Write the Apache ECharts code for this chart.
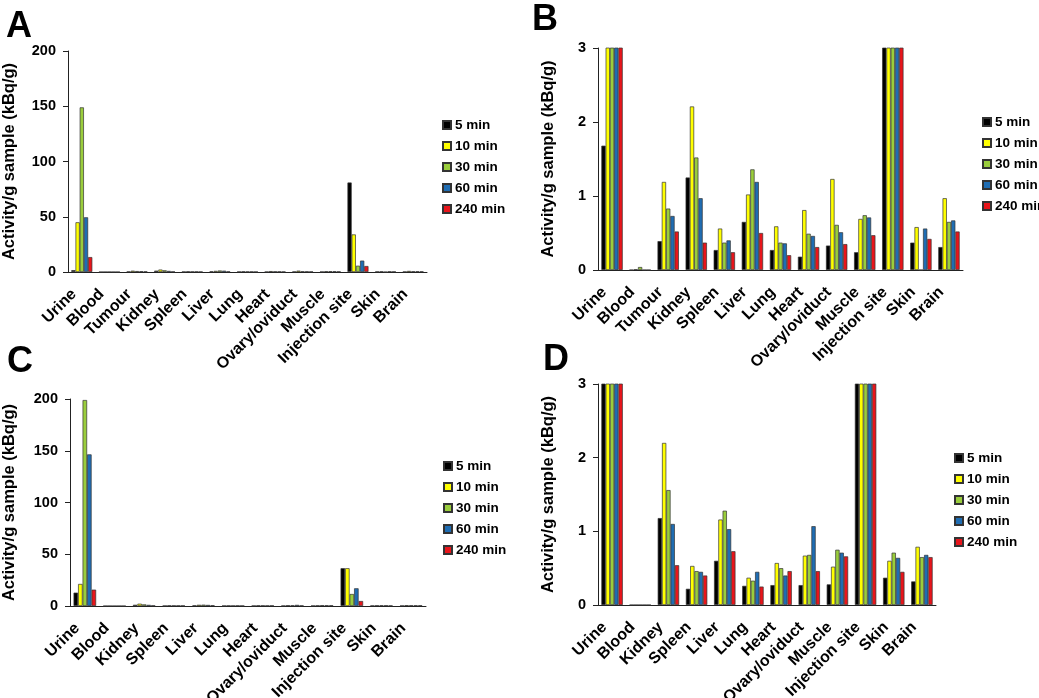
<!DOCTYPE html>
<html>
<head>
<meta charset="utf-8">
<script src="https://cdn.jsdelivr.net/npm/echarts@6/dist/echarts.min.js"></script>
<style>
  html, body { margin: 0; padding: 0; background: #fff; }
  #chart { width: 1039px; height: 698px; }
</style>
</head>
<body>
<div id="chart"></div>
<script>
// categories
const organsAB = ["Urine", "Blood", "Tumour", "Kidney", "Spleen", "Liver", "Lung", "Heart", "Ovary/oviduct", "Muscle", "Injection site", "Skin", "Brain"];
const organsCD = ["Urine", "Blood", "Kidney", "Spleen", "Liver", "Lung", "Heart", "Ovary/oviduct", "Muscle", "Injection site", "Skin", "Brain"];
const timePoints = ["5 min", "10 min", "30 min", "60 min", "240 min"];

// panels A + B (same data, B is zoomed to 0-3)
const ab5 = [1.68, 0, 0.39, 1.25, 0.27, 0.65, 0.27, 0.18, 0.33, 0.24, 81, 0.37, 0.31];
const ab10 = [45, 0.01, 1.19, 2.21, 0.56, 1.02, 0.59, 0.81, 1.23, 0.69, 34, 0.58, 0.97];
const ab30 = [149, 0.04, 0.83, 1.52, 0.37, 1.36, 0.37, 0.49, 0.61, 0.74, 5.7, 0, 0.65];
const ab60 = [49.5, 0, 0.73, 0.97, 0.40, 1.19, 0.36, 0.46, 0.51, 0.71, 10.3, 0.56, 0.67];
const ab240 = [13.5, 0, 0.52, 0.37, 0.24, 0.50, 0.20, 0.31, 0.35, 0.47, 5.4, 0.42, 0.52];

// panels C + D (same data, D is zoomed to 0-3)
const cd5 = [12.9, 0, 1.18, 0.22, 0.60, 0.26, 0.27, 0.27, 0.28, 36.5, 0.37, 0.32];
const cd10 = [21.3, 0, 2.20, 0.53, 1.16, 0.37, 0.57, 0.67, 0.52, 36.5, 0.60, 0.79];
const cd30 = [199, 0, 1.56, 0.46, 1.28, 0.33, 0.50, 0.68, 0.75, 11.6, 0.71, 0.65];
const cd60 = [146.5, 0, 1.10, 0.45, 1.03, 0.45, 0.40, 1.07, 0.71, 17.1, 0.64, 0.68];
const cd240 = [15.8, 0, 0.54, 0.40, 0.73, 0.25, 0.46, 0.46, 0.66, 4.8, 0.45, 0.65];

const colors = ["#000000", "#ffff00", "#9acd3c", "#1f6db3", "#e8151b"];
const font = "Liberation Sans, Arial, sans-serif";
const yName = "Activity/g sample (kBq/g)";

const chart = echarts.init(document.getElementById("chart"));

// grid layout for the four panels
const panels = [
  { letter: "A", grid: { left: 68, top: 51, width: 359, height: 221 }, cats: organsAB, data: [ab5, ab10, ab30, ab60, ab240], max: 200, interval: 50, nameGap: 50, legend: { left: 437, top: 113 }, title: { left: 1, top: 4 } },
  { letter: "B", grid: { left: 598, top: 48, width: 365, height: 222 }, cats: organsAB, data: [ab5, ab10, ab30, ab60, ab240], max: 3, interval: 1, nameGap: 41, legend: { left: 977, top: 110 }, title: { left: 527, top: -3 } },
  { letter: "C", grid: { left: 70, top: 399, width: 356, height: 207 }, cats: organsCD, data: [cd5, cd10, cd30, cd60, cd240], max: 200, interval: 50, nameGap: 52, legend: { left: 438, top: 454 }, title: { left: 2, top: 339 } },
  { letter: "D", grid: { left: 598, top: 384, width: 338, height: 221 }, cats: organsCD, data: [cd5, cd10, cd30, cd60, cd240], max: 3, interval: 1, nameGap: 41, legend: { left: 949, top: 446 }, title: { left: 538, top: 337 } }
];

const option = {
  animation: false,
  color: colors,
  textStyle: { fontFamily: font },
  title: [],
  grid: [],
  xAxis: [],
  yAxis: [],
  legend: [],
  series: []
};

panels.forEach((p, i) => {
  option.title.push({
    text: p.letter,
    left: p.title.left,
    top: p.title.top,
    textStyle: { fontFamily: font, fontWeight: "bold", fontSize: 36, color: "#000" }
  });
  // keep the grids fixed, labels may run past the panel like in the figure
  option.grid.push(Object.assign({ containLabel: false, outerBoundsMode: "none" }, p.grid));
  option.xAxis.push({
    type: "category",
    gridIndex: i,
    data: p.cats,
    axisLine: { lineStyle: { color: "#222", width: 1 } },
    axisTick: { length: 5, lineStyle: { color: "#222" } },
    axisLabel: { rotate: 45, interval: 0, margin: 12, padding: [0, 11, 0, 0], color: "#000", fontWeight: "bold", fontSize: 16, fontFamily: font }
  });
  option.yAxis.push({
    type: "value",
    gridIndex: i,
    min: 0,
    max: p.max,
    interval: p.interval,
    name: yName,
    nameLocation: "middle",
    nameGap: p.nameGap,
    nameTextStyle: { color: "#000", fontWeight: "bold", fontSize: 16.5, fontFamily: font },
    axisLine: { show: true, lineStyle: { color: "#222", width: 1 } },
    axisTick: { show: true, length: 5, lineStyle: { color: "#222" } },
    axisLabel: { margin: 12, color: "#000", fontWeight: "bold", fontSize: 14.5, fontFamily: font },
    splitLine: { show: false }
  });
  option.legend.push({
    orient: "vertical",
    left: p.legend.left,
    top: p.legend.top,
    data: timePoints,
    icon: "rect",
    itemWidth: 8,
    itemHeight: 8,
    itemGap: 7,
    textStyle: { color: "#000", fontWeight: "bold", fontSize: 13.5, lineHeight: 14, fontFamily: font, padding: [0, 0, 0, -1] }
  });
  timePoints.forEach((name, k) => {
    option.series.push({
      name: name,
      type: "bar",
      xAxisIndex: i,
      yAxisIndex: i,
      data: p.data[k],
      clip: true,
      barGap: "0%",
      barCategoryGap: "24%",
      itemStyle: { color: colors[k], borderColor: "#333", borderWidth: 0.7 }
    });
  });
});

chart.setOption(option);
</script>
</body>
</html>
